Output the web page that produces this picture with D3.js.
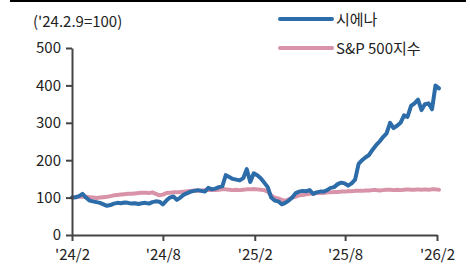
<!DOCTYPE html>
<html>
<head>
<meta charset="utf-8">
<script src="https://cdn.jsdelivr.net/npm/d3@7"></script>
<style>
  body { margin: 0; background: #fff; }
  svg text { font-family: "Noto Sans CJK KR", "Noto Sans", sans-serif; fill: #222; }
</style>
</head>
<body>
<svg width="470" height="264"></svg>
<script>
// weekly closes, '24.2.9 = 100
const startDate = new Date(2024, 1, 9);
const ciena = [100, 101, 104, 110, 100, 92, 90, 88, 86, 82,
  78, 80, 84, 86, 85, 87, 86, 84, 85, 83,
  85, 86, 84, 88, 90, 89, 82, 92, 100, 103,
  94, 100, 108, 112, 116, 118, 120, 118, 116, 126,
  122, 124, 128, 130, 160, 155, 150, 148, 146, 152,
  176, 142, 165, 160, 152, 140, 128, 100, 92, 90,
  82, 86, 92, 100, 112, 116, 118, 117, 120, 110,
  114, 116, 116, 120, 126, 128, 136, 140, 138, 132,
  138, 148, 190, 200, 208, 214, 228, 240, 250, 262,
  272, 300, 286, 292, 300, 320, 316, 345, 352, 362,
  334, 350, 352, 336, 400, 392];
const sp500 = [100, 101, 102, 103, 102, 101, 100, 99, 100, 101,
  102, 104, 106, 107, 108, 109, 110, 110, 111, 112,
  113, 113, 112, 114, 110, 106, 108, 112, 113, 114,
  114, 115, 116, 117, 118, 119, 118, 119, 120, 121,
  120, 120, 121, 122, 122, 121, 120, 121, 120, 121,
  122, 122, 123, 122, 121, 120, 116, 106, 100, 98,
  94, 92, 95, 100, 103, 106, 107, 109, 110, 111,
  112, 113, 112, 114, 114, 115, 115, 116, 116, 117,
  117, 118, 118, 118, 119, 119, 120, 120, 119, 120,
  121, 121, 120, 121, 120, 121, 122, 121, 121, 122,
  121, 122, 121, 122, 122, 121];
const yTicks = [0, 100, 200, 300, 400, 500];
const xTickDates = [new Date(2024, 1, 9), new Date(2024, 7, 9), new Date(2025, 1, 9), new Date(2025, 7, 9), new Date(2026, 1, 9)];
const xTickLabels = ["'24/2", "'24/8", "'25/2", "'25/8", "'26/2"];
const seriesNames = ["시에나", "S&P 500지수"];
const colors = ["#2c6ca8", "#d893a8"];

const svg = d3.select('svg');

// black rule at top
svg.append('rect').attr('x', 10).attr('y', 0).attr('width', 456).attr('height', 2).attr('fill', '#000');

const x = d3.scaleTime().domain([xTickDates[0], xTickDates[4]]).range([72, 437]);
const y = d3.scaleLinear().domain([0, 500]).range([235, 48]);

const dates = ciena.map((d, i) => d3.timeDay.offset(startDate, 7 * i));

const line = d3.line()
  .x((d, i) => x(dates[i]))
  .y(d => y(d));

[sp500, ciena].forEach((s, j) => {
  svg.append('path')
    .datum(s)
    .attr('d', line)
    .attr('fill', 'none')
    .attr('stroke', j === 0 ? colors[1] : colors[0])
    .attr('stroke-width', 4)
    .attr('stroke-linejoin', 'round')
    .attr('stroke-linecap', 'round');
});

// y axis
const yAxis = svg.append('g')
  .attr('transform', 'translate(72,0)')
  .call(d3.axisLeft(y).tickValues(yTicks).tickSize(6).tickPadding(5).tickSizeOuter(0));
yAxis.select('.domain').attr('stroke', '#444').attr('stroke-width', 2);
yAxis.selectAll('.tick line').attr('stroke', '#444').attr('stroke-width', 2);
yAxis.selectAll('text').style('font-size', '15px').attr('fill', '#222');

// x axis
const xAxis = svg.append('g')
  .attr('transform', 'translate(0,235)')
  .call(d3.axisBottom(x).tickValues(xTickDates).tickFormat((d, i) => xTickLabels[i]).tickSize(6).tickPadding(8).tickSizeOuter(0));
xAxis.select('.domain').attr('stroke', '#444').attr('stroke-width', 2);
xAxis.selectAll('.tick line').attr('stroke', '#444').attr('stroke-width', 2);
xAxis.selectAll('text').style('font-size', '15px').attr('fill', '#222');

// unit label
svg.append('text').attr('x', 33).attr('y', 27).style('font-size', '15px').text("('24.2.9=100)");

// legend
seriesNames.forEach((n, i) => {
  const ly = 19 + i * 29;
  svg.append('line').attr('x1', 280).attr('x2', 332).attr('y1', ly).attr('y2', ly)
    .attr('stroke', colors[i]).attr('stroke-width', 4).attr('stroke-linecap', 'round');
  svg.append('text').attr('x', 336).attr('y', ly + 5.5).style('font-size', '15px').text(n);
});
</script>
</body>
</html>
